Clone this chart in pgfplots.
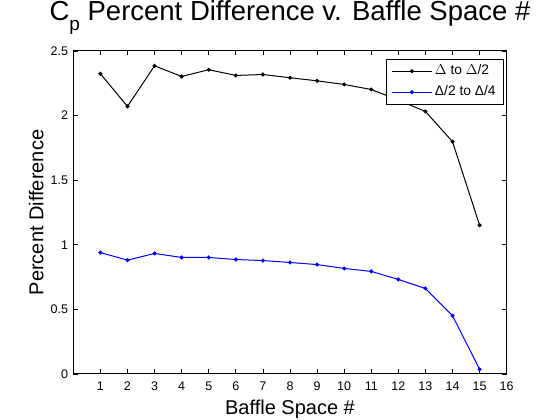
\documentclass[border=0pt]{standalone}
\usepackage{fontspec}
\setmainfont{Liberation Sans}
\usepackage{pgfplots}
\pgfplotsset{compat=1.18}
\begin{document}
\begin{tikzpicture}[x=1pt,y=1pt]
\useasboundingbox[fill=white] (-73.3,-46) rectangle (486.7,374);
\begin{axis}[
  at={(0,0)}, anchor=south west,
  scale only axis,
  width=433.4pt, height=323pt,
  xmin=0, xmax=16, ymin=0, ymax=2.5,
  xtick={1,2,...,16},
  ytick={0,0.5,1,1.5,2,2.5},
  yticklabels={0,0.5,1,1.5,2,2.5},
  tick align=inside,
  major tick length=4.5pt,
  axis line style={line width=1pt},
  every tick/.style={black, line width=0.8pt},
  /pgf/number format/assume math mode=true,
  tick label style={font=\fontsize{12.5}{12.5}\selectfont},
  xticklabel style={inner sep=0pt, anchor=base, yshift=-17pt},
  yticklabel style={inner sep=0pt, anchor=east, xshift=-5pt},
  title={C\raisebox{-10pt}{\fontsize{19}{19}\selectfont p} Percent Difference v. Baffle Space \#},
  title style={font=\fontsize{27.5}{27.5}\selectfont, at={(axis description cs:0.5,1)}, anchor=base, yshift=24pt, inner sep=0pt},
  xlabel={Baffle Space \#},
  xlabel style={font=\fontsize{20}{20}\selectfont, at={(axis description cs:0.5,0)}, anchor=base, yshift=-41pt, inner sep=0pt},
  ylabel={Percent Difference},
  every axis y label/.style={font=\fontsize{20}{20}\selectfont, at={(axis description cs:0,0.5)}, rotate=90, anchor=base, yshift=30pt, inner sep=0pt},
  legend style={at={(1,1)}, anchor=north east, xshift=-2.7pt, yshift=-8pt,
    font=\fontsize{13.8}{13.8}\selectfont, draw=black, line width=0.8pt,
    inner xsep=5.5pt, inner ysep=2.8pt, row sep=3pt,
    nodes={inner sep=2.5pt, text height=10pt, text depth=3pt, line width=0.5pt}},
  legend cell align=left,
  legend image code/.code={%
    \draw[#1, mark repeat=2, mark phase=2, line width=1pt] plot coordinates {(0pt,0pt) (20pt,0pt) (40pt,0pt)};},
]
\addplot[black, line width=1pt, mark=*, mark size=1.5pt, mark options={solid}] coordinates {
(1,2.324) (2,2.071) (3,2.385) (4,2.303) (5,2.355) (6,2.311) (7,2.318) (8,2.293)
(9,2.269) (10,2.241) (11,2.202) (12,2.12) (13,2.032) (14,1.798) (15,1.151)};
\addlegendentry{$\Delta$ to $\Delta$/2}
\addplot[blue, line width=1pt, mark=*, mark size=1.5pt, mark options={solid}] coordinates {
(1,0.940) (2,0.881) (3,0.933) (4,0.902) (5,0.902) (6,0.886) (7,0.878) (8,0.863)
(9,0.847) (10,0.817) (11,0.794) (12,0.732) (13,0.662) (14,0.451) (15,0.036)};
\addlegendentry{Δ/2 to Δ/4}
\end{axis}
\end{tikzpicture}
\end{document}
